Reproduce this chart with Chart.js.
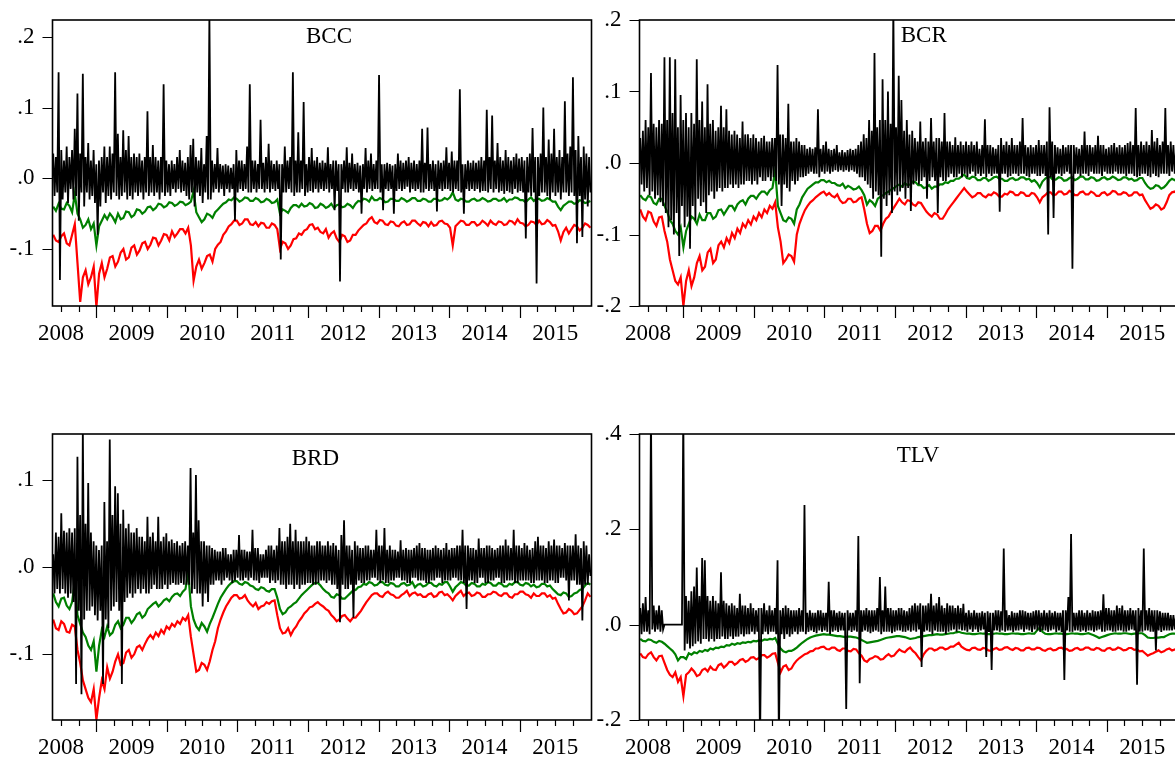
<!DOCTYPE html>
<html>
<head>
<meta charset="utf-8">
<script src="https://cdn.jsdelivr.net/npm/chart.js@4.4.1/dist/chart.umd.min.js"></script>
<style>
  html, body { margin: 0; padding: 0; background: #fff; }
  body { width: 1175px; height: 760px; overflow: hidden; position: relative; }
  canvas { position: absolute; }
</style>
</head>
<body>
<canvas id="bcc" width="600" height="350" style="left:0;top:0"></canvas>
<canvas id="bcr" width="600" height="350" style="left:587px;top:0"></canvas>
<canvas id="brd" width="600" height="350" style="left:0;top:414px"></canvas>
<canvas id="tlv" width="600" height="350" style="left:587px;top:414px"></canvas>
<script>
// sample runs from spring 2008 to end of 2015
const firstObs = 2008.39;
const lastObs = 2016.0;
const yearLabels = ['2008', '2009', '2010', '2011', '2012', '2013', '2014', '2015'];

// y tick values per panel
const bccTicks = [-0.1, 0, 0.1, 0.2];
const bcrTicks = [-0.2, -0.1, 0, 0.1, 0.2];
const brdTicks = [-0.1, 0, 0.1];
const tlvTicks = [-0.2, 0, 0.2, 0.4];

// ---- BCC ----
const bccReturns = [
  .035,-.025,.030,-.020,.150,-.144,.040,-.030,.025,-.020,.045,-.035,.030,-.015,.040,-.030,.070,-.025,.120,-.060,
  .035,-.020,.148,-.040,.030,-.020,.050,-.030,.025,-.025,.040,-.035,.020,-.080,.025,-.040,.030,-.020,.045,-.035,
  .030,-.025,.045,-.030,.035,-.020,.150,-.025,.063,-.030,.030,-.025,.068,-.020,.040,-.030,.060,-.025,.030,-.030,
  .035,-.020,.030,-.025,.035,-.020,.025,-.030,.030,-.020,.095,-.025,.030,-.020,.047,-.025,.030,-.020,.025,-.030,
  .030,-.020,.133,-.025,.025,-.020,.020,-.025,.025,-.015,.020,-.020,.030,-.015,.040,-.020,.025,-.018,.022,-.025,
  .030,-.030,.047,-.020,.056,-.040,.030,-.020,.025,-.025,.043,-.035,.020,-.020,.060,-.030,.230,-.030,.025,-.020,
  .020,-.015,.043,-.020,.020,-.015,.018,-.025,.020,-.015,.018,-.020,.015,-.015,.020,-.060,.040,-.020,.025,-.015,
  .025,-.018,.020,-.015,.045,-.020,.133,-.020,.025,-.015,.025,-.020,.020,-.015,.083,-.015,.022,-.020,.030,-.015,
  .049,-.020,.025,-.015,.020,-.018,.025,-.015,.020,-.115,.020,-.020,.045,-.020,.025,-.015,.030,-.020,.150,-.025,
  .025,-.020,.065,-.020,.025,-.015,.108,-.025,.020,-.020,.030,-.018,.043,-.020,.025,-.015,.030,-.020,.022,-.015,
  .025,-.018,.022,-.015,.044,-.020,.020,-.015,.025,-.045,.025,-.018,.020,-.146,.020,-.015,.025,-.020,.044,-.020,
  .022,-.015,.035,-.018,.020,-.015,.022,-.020,.018,-.050,.020,-.015,.043,-.020,.025,-.015,.035,-.018,.020,-.015,
  .025,-.015,.146,-.020,.020,-.045,.020,-.015,.022,-.018,.020,-.015,.018,-.050,.020,-.018,.035,-.015,.025,-.018,
  .022,-.015,.025,-.012,.030,-.020,.022,-.015,.025,-.018,.020,-.015,.025,-.020,.070,-.020,.022,-.015,.072,-.018,
  .020,-.015,.025,-.018,.020,-.047,.025,-.015,.022,-.018,.025,-.015,.044,-.015,.022,-.018,.038,-.020,.025,-.015,
  .025,-.018,.126,-.020,.020,-.050,.020,-.015,.025,-.018,.022,-.015,.025,-.018,.022,-.015,.025,-.020,.030,-.018,
  .025,-.018,.097,-.020,.030,-.015,.089,-.020,.025,-.015,.050,-.020,.030,-.018,.025,-.022,.040,-.018,.030,-.020,
  .025,-.022,.030,-.015,.035,-.020,.028,-.018,.030,-.020,.025,-.085,.030,-.020,.035,-.025,.071,-.020,.030,-.149,
  .030,-.025,.035,-.020,.100,-.020,.030,-.025,.055,-.030,.035,-.020,.070,-.025,.030,-.020,.040,-.030,.030,-.020,
  .109,-.020,.035,-.025,.045,-.020,.143,-.025,.040,-.092,.060,-.025,.030,-.083,.045,-.030,.035,-.040,.030,-.020
];
const bccVar95 = [
  -.040,-.046,-.036,-.043,-.044,-.035,-.039,-.048,-.022,-.050,-.058,-.070,-.066,-.058,-.072,-.064,-.095,-.068,-.060,-.052,
  -.058,-.050,-.055,-.062,-.050,-.058,-.056,-.047,-.048,-.055,-.052,-.044,-.045,-.050,-.047,-.041,-.040,-.045,-.042,-.036,
  -.037,-.041,-.039,-.034,-.035,-.039,-.037,-.033,-.034,-.038,-.036,-.033,-.018,-.048,-.055,-.062,-.058,-.050,-.052,-.056,
  -.048,-.044,-.040,-.036,-.034,-.030,-.031,-.027,-.029,-.033,-.031,-.027,-.028,-.032,-.032,-.028,-.030,-.034,-.033,-.029,
  -.031,-.035,-.034,-.030,-.050,-.044,-.046,-.049,-.042,-.038,-.038,-.041,-.036,-.040,-.039,-.035,-.037,-.042,-.041,-.036,
  -.038,-.042,-.040,-.036,-.042,-.038,-.037,-.041,-.040,-.036,-.038,-.042,-.036,-.032,-.033,-.029,-.030,-.033,-.026,-.031,
  -.031,-.028,-.030,-.034,-.033,-.029,-.029,-.032,-.032,-.028,-.030,-.033,-.031,-.028,-.028,-.032,-.032,-.029,-.030,-.033,
  -.033,-.029,-.029,-.032,-.031,-.028,-.030,-.027,-.020,-.030,-.032,-.029,-.030,-.033,-.033,-.030,-.029,-.032,-.031,-.028,
  -.030,-.033,-.032,-.029,-.029,-.032,-.031,-.028,-.033,-.030,-.030,-.027,-.028,-.031,-.031,-.034,-.030,-.027,-.032,-.029,
  -.029,-.032,-.031,-.028,-.030,-.033,-.033,-.040,-.045,-.039,-.036,-.033,-.033,-.036,-.035,-.031,-.032,-.035,-.034,-.032
];
const bccVar99 = [
  -.080,-.088,-.090,-.082,-.078,-.092,-.095,-.080,-.065,-.120,-.175,-.140,-.130,-.150,-.140,-.125,-.182,-.135,-.120,-.140,
  -.128,-.112,-.110,-.125,-.118,-.105,-.100,-.115,-.112,-.098,-.095,-.108,-.102,-.092,-.090,-.100,-.094,-.084,-.085,-.095,
  -.088,-.079,-.080,-.088,-.075,-.083,-.078,-.072,-.072,-.078,-.070,-.095,-.145,-.125,-.115,-.128,-.120,-.110,-.108,-.118,
  -.100,-.094,-.090,-.080,-.075,-.068,-.065,-.060,-.060,-.066,-.064,-.058,-.058,-.065,-.066,-.062,-.068,-.063,-.064,-.070,
  -.070,-.064,-.066,-.072,-.100,-.090,-.092,-.100,-.095,-.086,-.085,-.078,-.080,-.074,-.072,-.066,-.065,-.072,-.070,-.076,
  -.078,-.072,-.084,-.078,-.075,-.085,-.090,-.080,-.082,-.090,-.088,-.080,-.080,-.074,-.070,-.066,-.064,-.058,-.055,-.062,
  -.064,-.059,-.060,-.065,-.066,-.061,-.062,-.067,-.068,-.063,-.061,-.066,-.065,-.060,-.060,-.064,-.067,-.062,-.063,-.068,
  -.062,-.067,-.066,-.061,-.060,-.064,-.065,-.070,-.095,-.068,-.064,-.060,-.061,-.066,-.066,-.062,-.062,-.067,-.065,-.060,
  -.063,-.067,-.060,-.064,-.066,-.061,-.062,-.066,-.065,-.060,-.061,-.065,-.058,-.063,-.064,-.068,-.066,-.061,-.062,-.066,
  -.060,-.065,-.064,-.059,-.062,-.067,-.066,-.075,-.088,-.076,-.070,-.078,-.072,-.066,-.068,-.074,-.070,-.064,-.066,-.070
];

// ---- BCR ----
const bcrReturns = [
  .035,-.030,.045,-.040,.060,-.035,.050,-.045,.126,-.040,.055,-.050,.050,-.045,.060,-.055,.055,-.060,.148,-.070,
  .060,-.090,.148,-.080,.070,-.100,.145,-.070,.050,-.130,.095,-.060,.060,-.090,.070,-.075,.050,-.120,.070,-.060,
  .055,-.080,.145,-.050,.060,-.060,.086,-.055,.050,-.070,.110,-.045,.055,-.040,.060,-.050,.045,-.040,.050,-.035,
  .080,-.040,.050,-.035,.075,-.035,.045,-.030,.040,-.035,.045,-.030,.040,-.035,.035,-.030,.058,-.030,.040,-.025,
  .040,-.025,.035,-.030,.040,-.025,.035,-.030,.030,-.020,.035,-.025,.038,-.025,.030,-.020,.030,-.025,.035,-.020,
  .035,-.025,.137,-.030,.040,-.060,.040,-.030,.035,-.035,.083,-.040,.030,-.025,.030,-.030,.035,-.025,.030,-.020,
  .025,-.020,.025,-.018,.020,-.015,.022,-.012,.020,-.015,.022,-.015,.075,-.020,.020,-.012,.025,-.015,.030,-.012,
  .020,-.015,.018,-.012,.020,-.010,.025,-.012,.015,-.010,.018,-.012,.015,-.010,.018,-.012,.020,-.010,.018,-.012,
  .020,-.015,.025,-.020,.030,-.020,.040,-.025,.035,-.030,.060,-.035,.045,-.050,.154,-.040,.050,-.045,.060,-.131,
  .117,-.050,.060,-.060,.100,-.045,.055,-.070,.220,-.040,.050,-.045,.122,-.040,.088,-.035,.045,-.050,.060,-.035,
  .040,-.067,.045,-.030,.035,-.025,.030,-.030,.058,-.025,.030,-.020,.035,-.050,.030,-.025,.063,-.020,.030,-.025,
  .035,-.070,.035,-.020,.030,-.025,.070,-.025,.030,-.020,.030,-.015,.025,-.020,.036,-.020,.025,-.015,.030,-.020,
  .025,-.015,.030,-.020,.025,-.015,.030,-.012,.025,-.018,.030,-.015,.020,-.018,.025,-.015,.061,-.020,.025,-.015,
  .025,-.018,.022,-.015,.020,-.015,.025,-.068,.035,-.015,.025,-.015,.030,-.020,.025,-.018,.035,-.015,.025,-.015,
  .025,-.018,.030,-.015,.063,-.015,.025,-.018,.022,-.020,.025,-.015,.022,-.015,.025,-.018,.032,-.018,.025,-.015,
  .025,-.018,.030,-.100,.078,-.020,.030,-.077,.025,-.015,.022,-.015,.020,-.018,.025,-.015,.022,-.012,.025,-.015,
  .025,-.148,.025,-.015,.022,-.015,.020,-.018,.025,-.015,.044,-.015,.025,-.018,.025,-.012,.022,-.015,.025,-.015,
  .038,-.015,.025,-.018,.025,-.012,.020,-.015,.022,-.015,.025,-.015,.028,-.012,.022,-.015,.025,-.015,.022,-.015,
  .025,-.018,.028,-.015,.030,-.015,.025,-.018,.077,-.020,.025,-.018,.030,-.015,.025,-.015,.030,-.018,.025,-.020,
  .046,-.015,.030,-.018,.035,-.020,.025,-.015,.030,-.015,.077,-.015,.025,-.018,.030,-.012,.025,-.015,.020,-.012
];
const bcrVar95 = [
  -.045,-.050,-.052,-.046,-.048,-.056,-.058,-.050,-.050,-.060,-.068,-.080,-.085,-.095,-.100,-.090,-.118,-.095,-.085,-.075,
  -.078,-.085,-.072,-.080,-.080,-.070,-.070,-.078,-.075,-.066,-.065,-.072,-.066,-.060,-.060,-.066,-.058,-.054,-.052,-.058,
  -.050,-.046,-.046,-.050,-.044,-.040,-.040,-.044,-.038,-.035,-.010,-.060,-.070,-.080,-.082,-.076,-.078,-.085,-.065,-.058,
  -.048,-.042,-.036,-.033,-.030,-.027,-.027,-.024,-.024,-.027,-.025,-.028,-.028,-.031,-.032,-.029,-.035,-.032,-.034,-.037,
  -.036,-.033,-.038,-.045,-.058,-.052,-.055,-.060,-.050,-.047,-.045,-.042,-.040,-.037,-.035,-.032,-.030,-.033,-.028,-.031,
  -.030,-.026,-.027,-.031,-.031,-.035,-.034,-.031,-.036,-.033,-.033,-.030,-.030,-.027,-.028,-.025,-.025,-.022,-.022,-.019,
  -.016,-.021,-.022,-.019,-.020,-.024,-.024,-.021,-.021,-.025,-.023,-.020,-.019,-.022,-.022,-.025,-.025,-.022,-.021,-.024,
  -.023,-.020,-.020,-.023,-.022,-.026,-.024,-.028,-.034,-.026,-.022,-.019,-.020,-.024,-.023,-.020,-.021,-.025,-.024,-.021,
  -.020,-.024,-.022,-.019,-.019,-.023,-.023,-.020,-.021,-.025,-.024,-.021,-.020,-.023,-.022,-.019,-.021,-.024,-.023,-.020,
  -.020,-.023,-.022,-.025,-.024,-.021,-.021,-.028,-.033,-.036,-.035,-.031,-.032,-.036,-.034,-.030,-.025,-.022,-.024,-.021
];
const bcrVar99 = [
  -.065,-.075,-.080,-.068,-.070,-.082,-.088,-.076,-.075,-.095,-.110,-.135,-.150,-.165,-.170,-.160,-.200,-.165,-.150,-.172,
  -.160,-.140,-.130,-.150,-.145,-.125,-.120,-.140,-.135,-.115,-.110,-.118,-.105,-.112,-.098,-.105,-.092,-.098,-.085,-.090,
  -.080,-.086,-.075,-.080,-.070,-.076,-.065,-.070,-.060,-.064,-.055,-.090,-.110,-.140,-.135,-.128,-.130,-.138,-.100,-.085,
  -.075,-.066,-.060,-.055,-.052,-.048,-.045,-.042,-.040,-.045,-.042,-.046,-.048,-.044,-.052,-.056,-.055,-.050,-.050,-.055,
  -.054,-.050,-.048,-.065,-.085,-.098,-.095,-.088,-.088,-.095,-.085,-.078,-.075,-.068,-.062,-.056,-.050,-.055,-.058,-.052,
  -.053,-.058,-.060,-.055,-.056,-.062,-.068,-.072,-.075,-.070,-.072,-.078,-.078,-.072,-.065,-.060,-.055,-.050,-.045,-.040,
  -.035,-.040,-.044,-.048,-.046,-.042,-.042,-.046,-.048,-.044,-.045,-.041,-.043,-.047,-.047,-.043,-.044,-.040,-.041,-.045,
  -.045,-.041,-.042,-.046,-.046,-.042,-.043,-.048,-.055,-.048,-.045,-.041,-.041,-.045,-.044,-.040,-.040,-.044,-.043,-.039,
  -.041,-.045,-.045,-.041,-.040,-.044,-.044,-.040,-.042,-.046,-.046,-.042,-.041,-.045,-.043,-.039,-.040,-.044,-.044,-.041,
  -.042,-.046,-.045,-.041,-.041,-.045,-.044,-.052,-.058,-.064,-.062,-.058,-.060,-.065,-.063,-.055,-.045,-.041,-.040,-.044
];

// ---- BRD ----
const brdReturns = [
  .015,-.030,.040,-.025,.035,-.030,.062,-.025,.042,-.030,.040,-.035,.045,-.030,.040,-.040,.045,-.134,.127,-.050,
  .060,-.146,.160,-.060,.050,-.050,.097,-.050,.040,-.045,.030,-.055,.025,-.061,.020,-.050,.025,-.134,.075,-.060,
  .030,-.070,.147,-.050,.060,-.045,.093,-.040,.085,-.050,.050,-.134,.066,-.040,.045,-.035,.050,-.030,.040,-.035,
  .040,-.030,.045,-.025,.035,-.030,.035,-.025,.030,-.030,.058,-.030,.035,-.025,.040,-.020,.030,-.025,.058,-.025,
  .030,-.025,.035,-.020,.039,-.025,.030,-.020,.032,-.018,.028,-.020,.030,-.020,.025,-.018,.028,-.020,.030,-.020,
  .025,-.020,.114,-.030,.040,-.025,.106,-.030,.054,-.030,.030,-.045,.030,-.030,.025,-.040,.025,-.020,.022,-.020,
  .020,-.015,.018,-.015,.018,-.020,.022,-.015,.022,-.012,.015,-.015,.015,-.018,.020,-.015,.020,-.012,.037,-.015,
  .020,-.015,.020,-.012,.018,-.015,.018,-.012,.043,-.015,.022,-.015,.022,-.018,.015,-.012,.015,-.012,.020,-.012,
  .025,-.018,.025,-.015,.020,-.018,.025,-.015,.045,-.020,.030,-.020,.030,-.025,.035,-.020,.050,-.020,.030,-.025,
  .043,-.020,.030,-.025,.030,-.020,.030,-.020,.035,-.018,.030,-.018,.025,-.020,.025,-.020,.030,-.018,.030,-.015,
  .025,-.015,.025,-.018,.030,-.015,.025,-.020,.028,-.020,.025,-.025,.020,-.063,.037,-.020,.054,-.025,.025,-.025,
  .025,-.020,.020,-.058,.030,-.020,.025,-.015,.022,-.018,.022,-.018,.025,-.015,.025,-.015,.020,-.012,.020,-.012,
  .043,-.015,.025,-.018,.025,-.015,.045,-.018,.020,-.018,.025,-.015,.020,-.015,.020,-.012,.018,-.012,.031,-.015,
  .020,-.015,.022,-.018,.020,-.018,.020,-.012,.022,-.012,.025,-.015,.028,-.015,.022,-.015,.022,-.018,.020,-.018,
  .020,-.015,.022,-.015,.025,-.012,.022,-.012,.020,-.018,.022,-.015,.028,-.015,.020,-.015,.022,-.012,.022,-.012,
  .025,-.015,.025,-.015,.043,-.018,.025,-.048,.025,-.015,.022,-.015,.022,-.018,.020,-.018,.033,-.012,.022,-.012,
  .022,-.018,.025,-.018,.025,-.015,.022,-.015,.020,-.012,.022,-.012,.025,-.018,.025,-.018,.032,-.015,.025,-.015,
  .022,-.015,.043,-.018,.025,-.018,.025,-.015,.022,-.015,.028,-.015,.025,-.015,.020,-.018,.022,-.018,.030,-.015,
  .035,-.015,.025,-.015,.025,-.018,.022,-.018,.030,-.015,.025,-.015,.032,-.018,.025,-.018,.025,-.012,.022,-.012,
  .028,-.015,.025,-.038,.025,-.015,.025,-.015,.038,-.020,.025,-.020,.022,-.061,.030,-.020,.025,-.020,.015,-.010
];
const brdVar95 = [
  -.030,-.040,-.045,-.036,-.035,-.044,-.048,-.040,-.015,-.055,-.065,-.075,-.080,-.090,-.095,-.085,-.120,-.090,-.072,-.080,
  -.068,-.078,-.075,-.066,-.062,-.070,-.066,-.058,-.058,-.064,-.060,-.054,-.052,-.058,-.055,-.048,-.045,-.042,-.040,-.045,
  -.042,-.038,-.036,-.039,-.034,-.031,-.030,-.033,-.028,-.025,-.005,-.045,-.060,-.068,-.072,-.064,-.068,-.074,-.065,-.058,
  -.050,-.042,-.035,-.030,-.025,-.021,-.018,-.016,-.016,-.019,-.020,-.017,-.018,-.021,-.022,-.025,-.026,-.023,-.024,-.027,
  -.028,-.025,-.025,-.035,-.048,-.054,-.052,-.047,-.045,-.042,-.040,-.036,-.032,-.029,-.026,-.023,-.020,-.018,-.018,-.021,
  -.025,-.028,-.030,-.034,-.035,-.031,-.032,-.036,-.036,-.033,-.030,-.027,-.026,-.023,-.022,-.019,-.020,-.017,-.018,-.021,
  -.020,-.017,-.017,-.020,-.021,-.018,-.019,-.022,-.022,-.019,-.018,-.021,-.020,-.017,-.023,-.020,-.019,-.022,-.021,-.018,
  -.018,-.021,-.022,-.019,-.020,-.017,-.017,-.022,-.028,-.023,-.020,-.017,-.018,-.021,-.021,-.018,-.019,-.022,-.022,-.019,
  -.020,-.017,-.018,-.021,-.021,-.018,-.019,-.022,-.022,-.019,-.020,-.017,-.017,-.020,-.021,-.018,-.019,-.022,-.020,-.023,
  -.022,-.019,-.019,-.022,-.021,-.025,-.028,-.031,-.032,-.029,-.030,-.034,-.033,-.030,-.029,-.026,-.025,-.021,-.018,-.020
];
const brdVar99 = [
  -.060,-.070,-.072,-.062,-.065,-.074,-.075,-.066,-.068,-.095,-.110,-.130,-.140,-.150,-.155,-.140,-.175,-.150,-.130,-.140,
  -.115,-.128,-.120,-.108,-.100,-.112,-.110,-.098,-.095,-.104,-.100,-.092,-.090,-.095,-.088,-.082,-.078,-.082,-.075,-.079,
  -.072,-.076,-.068,-.071,-.065,-.068,-.062,-.065,-.058,-.061,-.055,-.080,-.100,-.120,-.118,-.110,-.112,-.118,-.108,-.095,
  -.085,-.070,-.060,-.052,-.045,-.040,-.035,-.032,-.032,-.036,-.035,-.032,-.038,-.042,-.045,-.041,-.048,-.045,-.044,-.040,
  -.042,-.039,-.038,-.055,-.070,-.076,-.075,-.070,-.078,-.072,-.068,-.062,-.058,-.053,-.050,-.046,-.045,-.042,-.040,-.043,
  -.045,-.048,-.050,-.055,-.058,-.062,-.060,-.056,-.055,-.059,-.062,-.058,-.058,-.054,-.050,-.045,-.040,-.036,-.032,-.030,
  -.030,-.033,-.034,-.030,-.028,-.031,-.032,-.035,-.035,-.032,-.030,-.027,-.033,-.030,-.029,-.032,-.031,-.034,-.034,-.031,
  -.030,-.034,-.033,-.029,-.028,-.032,-.031,-.034,-.038,-.033,-.030,-.027,-.033,-.030,-.029,-.033,-.032,-.029,-.030,-.034,
  -.034,-.031,-.031,-.028,-.029,-.032,-.033,-.030,-.030,-.034,-.035,-.031,-.031,-.028,-.028,-.031,-.032,-.035,-.030,-.033,
  -.033,-.030,-.030,-.034,-.032,-.036,-.035,-.042,-.048,-.053,-.052,-.048,-.050,-.054,-.053,-.049,-.045,-.038,-.030,-.034
];

// ---- TLV ----
const tlvReturns = [
  .035,-.020,.045,-.015,.058,-.015,.030,-.020,.450,-.010,.040,-.015,.030,-.010,.040,-.015,.030,-.010,0,0,
  0,0,0,0,0,0,0,0,0,0,0,0,.450,-.054,.060,-.040,.050,-.050,.070,-.045,
  .080,-.040,.120,-.035,.060,-.040,.140,-.030,.135,-.030,.060,-.035,.050,-.030,.060,-.035,.050,-.030,.045,-.030,
  .110,-.025,.050,-.030,.045,-.030,.040,-.025,.045,-.030,.040,-.025,.035,-.025,.065,-.020,.040,-.025,.040,-.020,
  .035,-.020,.045,-.015,.035,-.020,.030,-.015,.035,-.250,.035,-.020,.045,-.015,.030,-.020,.040,-.015,.030,-.015,
  .035,-.020,.135,-.250,.030,-.020,.035,-.030,.040,-.020,.035,-.025,.030,-.020,.030,-.015,.030,-.020,.035,-.015,
  .030,-.015,.251,-.020,.025,-.015,.030,-.012,.025,-.015,.025,-.018,.030,-.012,.030,-.015,.025,-.012,.025,-.015,
  .090,-.020,.030,-.015,.030,-.012,.025,-.015,.028,-.012,.025,-.012,.025,-.177,.030,-.012,.025,-.015,.025,-.012,
  .030,-.015,.186,-.123,.030,-.015,.030,-.012,.035,-.015,.030,-.018,.030,-.015,.030,-.012,.035,-.015,.100,-.020,
  .030,-.015,.080,-.015,.035,-.015,.035,-.018,.030,-.015,.030,-.012,.035,-.012,.035,-.015,.030,-.015,.028,-.012,
  .035,-.015,.040,-.012,.045,-.015,.040,-.010,.045,-.089,.040,-.015,.040,-.012,.045,-.015,.065,-.020,.040,-.012,
  .045,-.015,.058,-.015,.040,-.015,.035,-.020,.045,-.015,.040,-.012,.040,-.010,.035,-.015,.040,-.010,.035,-.012,
  .044,-.012,.025,-.015,.030,-.010,.025,-.015,.030,-.010,.025,-.015,.025,-.012,.028,-.010,.025,-.068,.028,-.015,
  .025,-.095,.025,-.012,.030,-.012,.030,-.015,.028,-.012,.160,-.015,.030,-.012,.020,-.012,.028,-.015,.025,-.012,
  .025,-.012,.030,-.010,.030,-.015,.028,-.010,.025,-.012,.025,-.015,.028,-.010,.030,-.012,.030,-.015,.025,-.012,
  .030,-.012,.025,-.015,.030,-.012,.025,-.010,.028,-.015,.025,-.012,.025,-.015,.030,-.116,.030,-.012,.058,-.015,
  .190,-.015,.025,-.012,.025,-.012,.030,-.015,.030,-.012,.025,-.015,.030,-.012,.025,-.012,.030,-.015,.028,-.012,
  .028,-.010,.030,-.015,.064,-.015,.035,-.012,.035,-.012,.030,-.015,.030,-.015,.040,-.012,.035,-.012,.040,-.015,
  .030,-.015,.030,-.012,.035,-.010,.030,-.012,.030,-.126,.035,-.015,.030,-.015,.160,-.012,.030,-.012,.035,-.015,
  .030,-.015,.030,-.054,.030,-.012,.028,-.015,.025,-.012,.025,-.012,.025,-.012,.020,-.012,.020,-.010,.020,-.010
];
const tlvVar95 = [
  -.030,-.034,-.035,-.031,-.032,-.036,-.038,-.034,-.036,-.040,-.045,-.050,-.055,-.062,-.075,-.068,-.068,-.072,-.060,-.063,
  -.058,-.060,-.055,-.057,-.053,-.055,-.050,-.052,-.048,-.049,-.046,-.047,-.043,-.044,-.040,-.042,-.039,-.040,-.037,-.038,
  -.036,-.037,-.034,-.035,-.033,-.034,-.031,-.032,-.030,-.031,-.028,-.040,-.050,-.056,-.058,-.055,-.055,-.052,-.048,-.043,
  -.038,-.034,-.030,-.027,-.025,-.023,-.022,-.021,-.020,-.021,-.021,-.022,-.023,-.024,-.024,-.025,-.026,-.025,-.025,-.026,
  -.027,-.029,-.032,-.035,-.038,-.037,-.036,-.035,-.034,-.032,-.030,-.028,-.027,-.026,-.025,-.024,-.024,-.025,-.026,-.028,
  -.030,-.029,-.028,-.026,-.025,-.024,-.023,-.022,-.022,-.021,-.020,-.021,-.021,-.020,-.019,-.018,-.018,-.016,-.015,-.017,
  -.018,-.019,-.019,-.020,-.020,-.019,-.018,-.019,-.019,-.020,-.020,-.019,-.018,-.019,-.019,-.020,-.020,-.019,-.018,-.019,
  -.019,-.020,-.020,-.019,-.018,-.019,-.019,-.012,-.006,-.015,-.019,-.020,-.020,-.019,-.018,-.019,-.019,-.020,-.020,-.019,
  -.018,-.019,-.019,-.020,-.020,-.019,-.018,-.020,-.022,-.025,-.028,-.026,-.024,-.022,-.020,-.019,-.018,-.019,-.019,-.018,
  -.018,-.019,-.020,-.019,-.019,-.018,-.018,-.022,-.027,-.028,-.028,-.027,-.027,-.026,-.026,-.023,-.020,-.019,-.019,-.018
];
const tlvVar99 = [
  -.060,-.068,-.070,-.062,-.058,-.068,-.075,-.066,-.065,-.080,-.095,-.105,-.110,-.100,-.120,-.110,-.150,-.105,-.100,-.092,
  -.098,-.108,-.105,-.095,-.092,-.098,-.088,-.094,-.095,-.085,-.082,-.090,-.085,-.078,-.078,-.084,-.080,-.074,-.072,-.078,
  -.075,-.069,-.068,-.073,-.070,-.064,-.064,-.069,-.066,-.061,-.060,-.080,-.100,-.088,-.085,-.095,-.092,-.082,-.075,-.070,
  -.066,-.062,-.060,-.056,-.055,-.050,-.050,-.047,-.046,-.051,-.052,-.048,-.048,-.053,-.055,-.050,-.050,-.055,-.056,-.051,
  -.052,-.060,-.065,-.075,-.078,-.072,-.070,-.066,-.068,-.073,-.072,-.066,-.062,-.067,-.065,-.058,-.052,-.056,-.058,-.052,
  -.048,-.055,-.060,-.068,-.075,-.062,-.055,-.050,-.050,-.054,-.052,-.048,-.048,-.052,-.050,-.046,-.046,-.042,-.038,-.046,
  -.050,-.053,-.054,-.049,-.048,-.052,-.053,-.049,-.050,-.054,-.055,-.051,-.049,-.053,-.052,-.048,-.047,-.051,-.053,-.049,
  -.050,-.054,-.054,-.049,-.048,-.052,-.052,-.048,-.049,-.053,-.055,-.051,-.050,-.054,-.053,-.049,-.048,-.052,-.051,-.055,
  -.054,-.050,-.049,-.053,-.052,-.048,-.048,-.052,-.053,-.049,-.050,-.054,-.055,-.050,-.049,-.053,-.052,-.048,-.050,-.054,
  -.053,-.049,-.049,-.053,-.052,-.056,-.055,-.060,-.065,-.062,-.060,-.057,-.054,-.058,-.056,-.052,-.050,-.054,-.052,-.049
];

Chart.defaults.font.family = '"Liberation Serif", "Times New Roman", serif';
Chart.defaults.color = '#000';

const xMin = 2008.38;
const xMax = 2016.015;

// quarterly tick marks, year labels sit mid-year
const xTicks = [];
yearLabels.forEach(y => {
  [0, 0.25, 0.5, 0.75].forEach(q => {
    const v = Number(y) + q;
    if (v > xMin && v < xMax - 0.01) xTicks.push(v);
  });
});

function toPoints(values) {
  const step = (lastObs - firstObs) / (values.length - 1);
  return values.map((v, i) => ({ x: firstObs + i * step, y: v }));
}

function fmtTick(v) {
  const tenths = Math.round(Math.abs(v) * 10);
  return (v < 0 ? '-' : '') + '.' + tenths;
}

// box, tick marks and panel name (EViews style)
const framePlugin = {
  id: 'frame',
  afterDatasetsDraw(chart, args, opts) {
    const { ctx, chartArea: a } = chart;
    const x = chart.scales.x, y = chart.scales.y;
    ctx.save();
    ctx.strokeStyle = '#000';
    ctx.lineWidth = 1.2;
    ctx.beginPath();
    x.ticks.forEach(t => {
      const px = Math.round(x.getPixelForValue(t.value)) + 0.5;
      const len = Number.isInteger(t.value) ? 12 : 6;
      ctx.moveTo(px, a.bottom);
      ctx.lineTo(px, a.bottom + len);
    });
    y.ticks.forEach(t => {
      const py = Math.round(y.getPixelForValue(t.value)) + 0.5;
      ctx.moveTo(a.left - 10, py);
      ctx.lineTo(a.left, py);
    });
    ctx.stroke();
    ctx.lineWidth = 1.6;
    ctx.strokeRect(a.left, a.top, a.right - a.left, a.bottom - a.top);
    ctx.fillStyle = '#000';
    ctx.font = '23px "Liberation Serif", serif';
    ctx.textBaseline = 'alphabetic';
    ctx.fillText(opts.text, a.left + opts.dx, a.top + opts.dy);
    ctx.restore();
  }
};

function drawPanel(id, title, titlePos, yMin, yMax, yTicks, returns, var95, var99) {
  new Chart(document.getElementById(id), {
    type: 'line',
    data: {
      datasets: [
        { data: toPoints(returns), borderColor: '#000000', borderWidth: 1.8, clip: 0 },
        { data: toPoints(var95), borderColor: '#008000', borderWidth: 2.2, clip: 0 },
        { data: toPoints(var99), borderColor: '#ff0000', borderWidth: 2.2, clip: 0 }
      ]
    },
    options: {
      responsive: false,
      animation: false,
      events: [],
      devicePixelRatio: 1,
      layout: { padding: { left: 0, top: 20, right: 8.5, bottom: 0 } },
      elements: { point: { radius: 0 }, line: { tension: 0 } },
      scales: {
        x: {
          type: 'linear',
          min: xMin,
          max: xMax,
          bounds: 'data',
          grid: { display: false, drawTicks: false },
          border: { display: false },
          afterBuildTicks: s => { s.ticks = xTicks.map(v => ({ value: v })); },
          afterFit: s => {
            s.height = 44;
            s.paddingLeft = 0;
            s.paddingRight = 0;
          },
          ticks: {
            autoSkip: false,
            maxRotation: 0,
            minRotation: 0,
            padding: 14,
            font: { size: 23, lineHeight: 1.2 },
            callback: v => {
              const y = v - 0.5;
              return Number.isInteger(y) ? (yearLabels[y - 2008] || '') : '';
            }
          }
        },
        y: {
          type: 'linear',
          min: yMin,
          max: yMax,
          bounds: 'data',
          grid: { display: false, drawTicks: false },
          border: { display: false },
          afterBuildTicks: s => { s.ticks = yTicks.map(v => ({ value: v })); },
          afterFit: s => {
            s.width = 52.5;
            s.paddingTop = 0;
            s.paddingBottom = 0;
          },
          ticks: {
            autoSkip: false,
            padding: 18,
            font: { size: 23, lineHeight: 1.2 },
            callback: v => fmtTick(v)
          }
        }
      },
      plugins: {
        legend: { display: false },
        tooltip: { enabled: false },
        frame: { text: title, dx: titlePos[0], dy: titlePos[1] }
      }
    },
    plugins: [framePlugin]
  });
}

drawPanel('bcc', 'BCC', [253.5, 23.3], -0.1807, 0.224, bccTicks, bccReturns, bccVar95, bccVar99);
drawPanel('bcr', 'BCR', [261.2, 21.7], -0.2, 0.2, bcrTicks, bcrReturns, bcrVar95, bcrVar99);
drawPanel('brd', 'BRD', [239.2, 31], -0.1755, 0.1532, brdTicks, brdReturns, brdVar95, brdVar99);
drawPanel('tlv', 'TLV', [257.2, 27.7], -0.2, 0.4, tlvTicks, tlvReturns, tlvVar95, tlvVar99);
</script>
</body>
</html>
